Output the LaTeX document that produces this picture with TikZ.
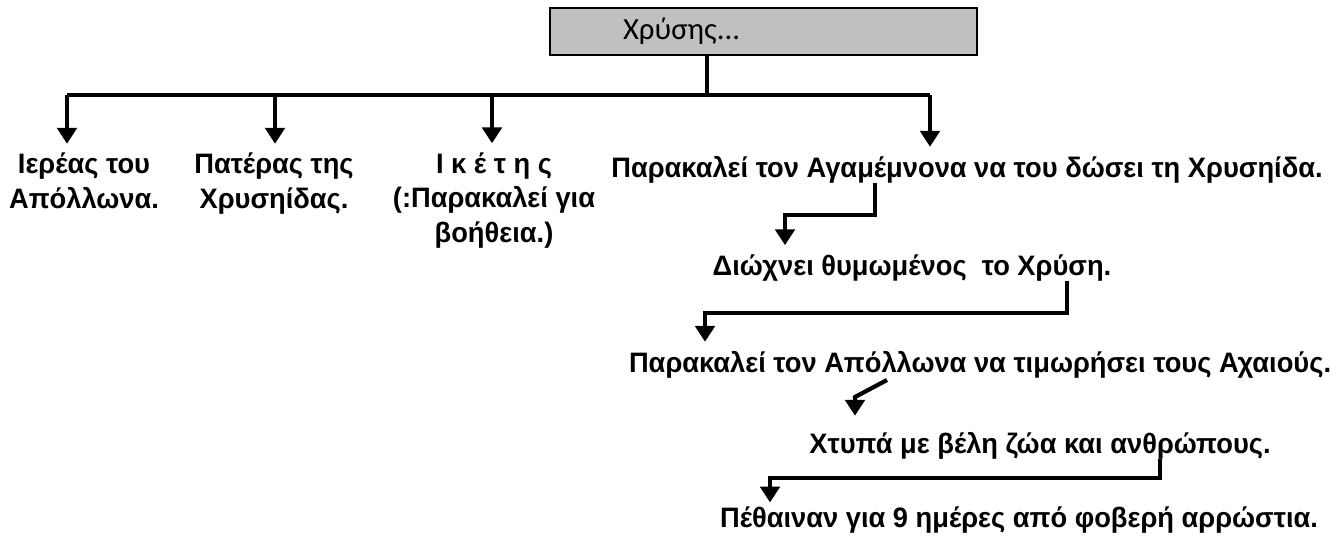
\documentclass[tikz,border=0pt]{standalone}
\usepackage{fontspec}
\setmainfont{Liberation Sans}[BoldFont={Liberation Sans Bold}, FakeStretch=0.97]
\newfontfamily\boxfont{Carlito}
\usepackage{xcolor}
\usetikzlibrary{arrows.meta}
\definecolor{boxgray}{RGB}{192,192,192}

\begin{document}
\begin{tikzpicture}[x=0.02cm,y=-0.02cm,
  txt/.style={font=\fontsize{16}{17.6}\selectfont\bfseries, inner sep=0pt, align=center, anchor=base},
  wire/.style={line width=2.4pt},
  arr/.style={wire, -{Triangle[width=11pt,length=9pt]}, shorten >=5pt},
  titlebox/.style={draw=black, line width=1.4pt, fill=boxgray, inner xsep=1.46cm,
    text width=5.62cm, align=left, minimum height=0.94cm,
    font=\boxfont\fontsize{17.5}{18}\selectfont}]
  \useasboundingbox (0,0) rectangle (1336,541);

  % Title box
  \node[titlebox] (top) at (763.5,31.5) {Χρύσης...};

  % First row (base = last line)
  \node[txt] (priest) at (84,208) {Ιερέας του\\[2pt]Απόλλωνα.};
  \node[txt] (father) at (274,208) {Πατέρας της\\[2pt]Χρυσηίδας.};
  \node[txt] (suppl) at (494,242) {Ι κ έ τ η ς\\[2pt](:Παρακαλεί για\\[2pt]βοήθεια.)};
  \node[txt] (asks) at (967,177) {Παρακαλεί τον Αγαμέμνονα να του δώσει τη Χρυσηίδα.};

  % Story steps
  \node[txt] (chased) at (912,275) {Διώχνει θυμωμένος\ \ το Χρύση.};
  \node[txt] (prays) at (980,372) {Παρακαλεί τον Απόλλωνα να τιμωρήσει τους Αχαιούς.};
  \node[txt] (strikes) at (1040,453) {Χτυπά με βέλη ζώα και ανθρώπους.};
  \node[txt] (dying) at (1019,527) {Πέθαιναν για 9 ημέρες από φοβερή αρρώστια.};

  % Trunk and drops
  \coordinate (hub) at (707,95);
  \coordinate (d1) at (67,95);
  \coordinate (d2) at (275,95);
  \coordinate (d3) at (492,95);
  \coordinate (d4) at (930,95);
  \draw[wire] (top.south -| hub) -- (hub);
  \draw[wire] (d1) -- (d4);
  \draw[arr] (d1) -- (d1 |- priest.north);
  \draw[arr] (d2) -- (d2 |- father.north);
  \draw[arr] (d3) -- (d3 |- suppl.north);
  \draw[arr] (d4) -- (d4 |- asks.north);

  % Steps down
  \coordinate (k1) at (875,215);
  \coordinate (k1a) at (785,215);
  \draw[arr] (asks.south -| k1) -- (k1) -- (k1a) -- (k1a |- chased.north);
  \coordinate (k2) at (1067,313);
  \coordinate (k2a) at (705,313);
  \draw[arr] (chased.south -| k2) -- (k2) -- (k2a) -- (k2a |- prays.north);
  \coordinate (k3) at (887,380);
  \coordinate (k3a) at (855,397);
  \draw[arr, shorten >=9pt] (k3) -- (k3a) -- (k3a |- strikes.north);
  \coordinate (k4) at (1160,478);
  \coordinate (k4a) at (770,478);
  \draw[arr, shorten >=2pt] (strikes.south -| k4) -- (k4) -- (k4a) -- (k4a |- dying.north);
\end{tikzpicture}
\end{document}
